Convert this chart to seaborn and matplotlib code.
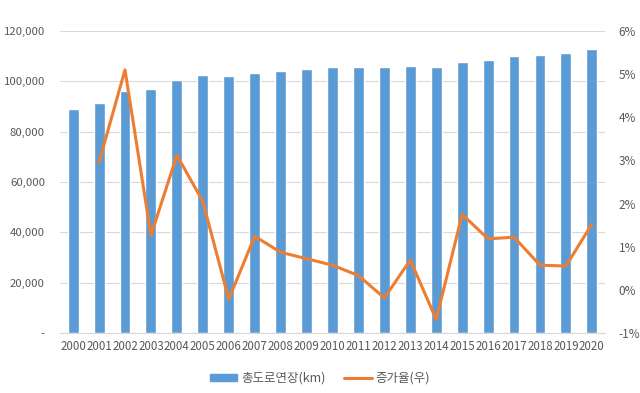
import numpy as np
import pandas as pd
import matplotlib
matplotlib.use('Agg')
import matplotlib.pyplot as plt
import seaborn as sns
from matplotlib.ticker import FuncFormatter
from matplotlib.lines import Line2D
from matplotlib.patches import Patch

# 데이터
years = [str(y) for y in range(2000, 2021)]
road_km = [88900, 91500, 96200, 97000, 100400, 102400, 102000, 103300, 104200, 104900,
           105600, 105800, 105600, 106200, 105600, 107500, 108500, 109900, 110600, 111300, 112700]
growth_pct = [np.nan, 2.96, 5.10, 1.26, 3.12, 2.05, -0.22, 1.24, 0.87, 0.72,
              0.57, 0.33, -0.19, 0.69, -0.69, 1.75, 1.18, 1.22, 0.57, 0.55, 1.52]

bar_color = '#5B9BD5'
line_color = '#ED7D31'
text_color = '#595959'

sns.set_style("white")
plt.rcParams['font.family'] = ['Noto Sans CJK KR', 'DejaVu Sans']

df = pd.DataFrame({'year': years, 'km': road_km, 'rate': growth_pct})
df['pos'] = range(len(df))

fig = plt.figure(figsize=(6.4, 3.93), dpi=100)
ax = fig.add_axes([0.094, 0.153, 0.851, 0.768])

sns.barplot(data=df, x='year', y='km', color=bar_color, width=0.42, saturation=1, ax=ax)
ax.set_ylim(0, 120000)
ax.set_xlim(-0.5, len(years) - 0.5)
ax.set_yticks(range(0, 120001, 20000))
ax.yaxis.set_major_formatter(FuncFormatter(lambda v, p: '-' if v == 0 else f'{int(v):,}'))
ax.grid(axis='y', color='#D9D9D9', linewidth=0.8)
ax.set_axisbelow(True)
ax.set_xlabel('')
ax.set_ylabel('')
for s in ['top', 'right', 'left']:
    ax.spines[s].set_visible(False)
ax.spines['bottom'].set_color('#D9D9D9')
ax.tick_params(axis='both', length=0, colors=text_color)
ax.tick_params(axis='y', labelsize=8.2, pad=11)
ax.tick_params(axis='x', labelsize=8.3, pad=5)

ax2 = ax.twinx()
sns.lineplot(data=df.dropna(), x='pos', y='rate', color=line_color, linewidth=2.2, ax=ax2)
ax2.set_ylim(-1, 6)
ax2.set_yticks(range(-1, 7))
ax2.yaxis.set_major_formatter(FuncFormatter(lambda v, p: f'{int(v)}%'))
ax2.set_xlim(-0.5, len(years) - 0.5)
ax2.set_xlabel('')
ax2.set_ylabel('')
for s in ['top', 'right', 'left', 'bottom']:
    ax2.spines[s].set_visible(False)
ax2.tick_params(axis='y', length=0, colors=text_color, labelsize=8.5, pad=10)

handles = [Patch(color=bar_color), Line2D([0], [0], color=line_color, linewidth=2.2)]
fig.legend(handles, ['총도로연장(km)', '증가율(우)'], loc='center', bbox_to_anchor=(0.5, 0.038),
           ncol=2, frameon=False, fontsize=9, labelcolor=text_color,
           handlelength=2.2, handleheight=0.5, handletextpad=0.3, columnspacing=1.5)

plt.savefig('out.png', dpi=100)
plt.close()
